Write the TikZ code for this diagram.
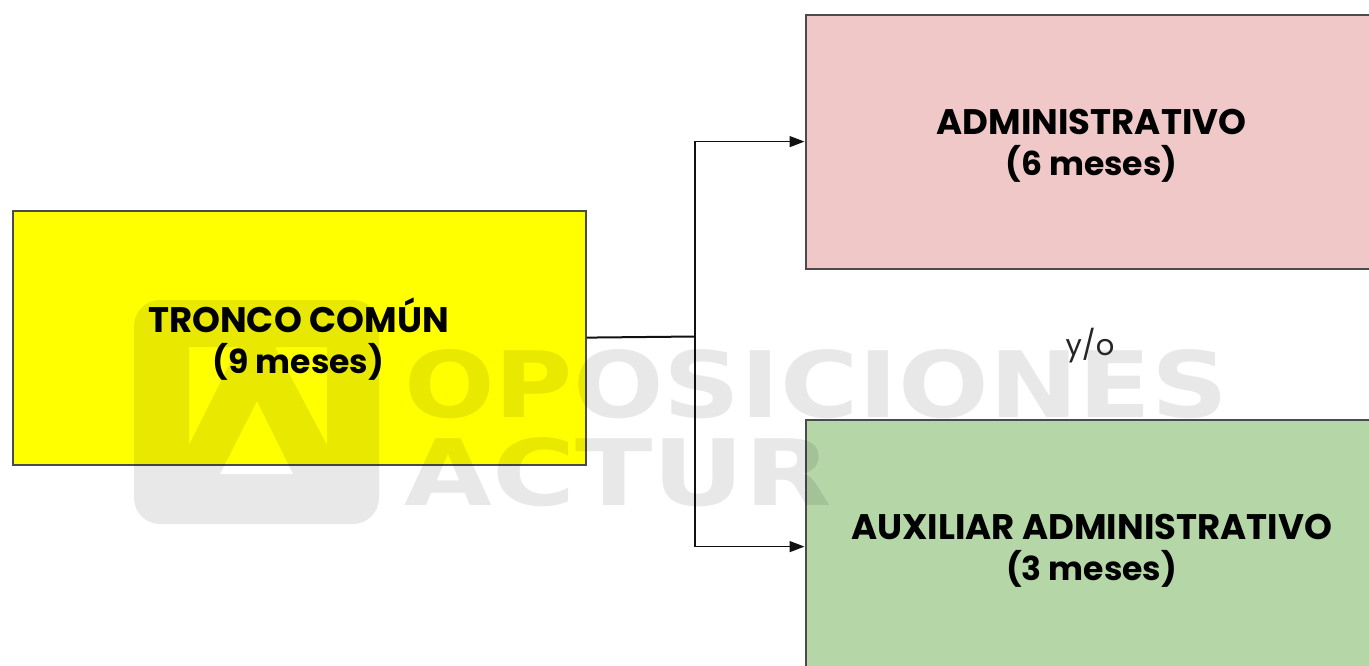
\documentclass[tikz,border=0pt]{standalone}
\usepackage{fontspec}
\usepackage{graphicx}
\setmainfont{Poppins}
\newfontfamily\wmfont{DejaVu Sans}
\usetikzlibrary{arrows.meta}
\definecolor{frameGray}{RGB}{75,75,75}
\definecolor{trunkYellow}{RGB}{255,255,0}
\definecolor{adminPink}{RGB}{240,200,200}
\definecolor{auxGreen}{RGB}{181,214,167}
\definecolor{lineInk}{RGB}{17,17,17}
\newcommand{\monthsline}[1]{{\fontsize{33}{41}\selectfont #1}}
\tikzset{
  x=1pt,y=-1pt,
  stagebox/.style={draw=frameGray,line width=2.2pt,minimum width=573pt,minimum height=254pt,inner sep=0pt,anchor=north west,text=black},
  stagelabel/.style={align=center,font=\fontsize{35.5}{41}\selectfont\bfseries,text=black},
  link/.style={draw=lineInk,line width=1.5pt,-{Triangle[length=15pt,width=11pt]}},
  stem/.style={draw=lineInk,line width=2pt},
  wm/.style={fill=black,fill opacity=.09,draw=none},
  wmtext/.style={text=black,text opacity=.09,inner sep=0pt,anchor=north west,font=\wmfont\bfseries}
}
\begin{document}
\begin{tikzpicture}
\useasboundingbox (0,0) rectangle (1369,665);
\clip (0,0) rectangle (1369,665);
\fill[white] (0,0) rectangle (1369,665);
\node[stagebox,fill=trunkYellow] (tronco) at (11.5,209.5) {};
\node[stagebox,fill=adminPink] (admin) at (804.5,13.5) {};
\node[stagebox,fill=auxGreen] (aux) at (804.5,418.5) {};
\coordinate (fork) at (695,336.5);
\draw[stem] (tronco.east) -- (fork);
\draw[link] (fork) |- (admin.west);
\draw[link] (fork) |- (aux.west);
% watermark
\fill[wm,even odd rule,rounded corners=26pt] (134,300) rectangle (379,524)
  [sharp corners] (257,401) -- (293,474) -- (220,474) -- cycle
  (189,347) -- (238,347) -- (189,445) -- cycle
  (327,347) -- (275,347) -- (327,445) -- cycle;
\node[wmtext] (wmOne) at (404,349) {\resizebox{824pt}{68pt}{OPOSICIONES}};
\node[wmtext] (wmTwo) at (404,437) {\resizebox{428pt}{68pt}{ACTUR}};
% labels
\node[stagelabel] (tl) at (298.5,339) {TRONCO COMÚN\\\monthsline{(9 meses)}};
\node[stagelabel] (al) at (1091.5,146) {ADMINISTRATIVO\\\monthsline{(6 meses)}};
\node[stagelabel] (xl) at (1091.5,551) {AUXILIAR ADMINISTRATIVO\\\monthsline{(3 meses)}};
\node[font=\fontsize{29}{36}\selectfont,text=black!85] (yo) at (1090,346) {y/o};
\end{tikzpicture}
\end{document}
